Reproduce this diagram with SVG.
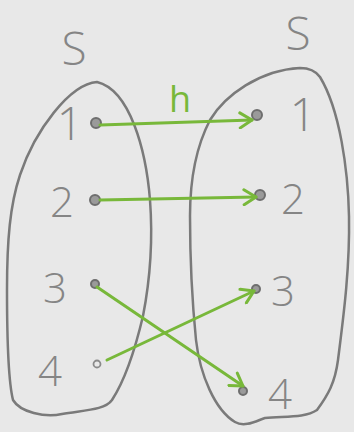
<svg xmlns="http://www.w3.org/2000/svg" width="354" height="432" viewBox="0 0 354 432">
<style>
.oval{fill:none;stroke:#7a7a7a;stroke-width:2.5;stroke-linecap:round}
.lbl{font-family:"Open Sans","DejaVu Sans",sans-serif;font-weight:300;fill:#858585;text-anchor:middle}
.dot{fill:#9a9a9a;stroke:#6e6e6e;stroke-width:2}
.arr{stroke:#78b83a;stroke-width:3;fill:none;stroke-linecap:round;marker-end:url(#chev)}
</style>
<defs>
<marker id="chev" viewBox="0 0 12 12" refX="10" refY="6" markerWidth="6" markerHeight="6" orient="auto" markerUnits="strokeWidth">
<path d="M2 1 L10 6 L2 11" fill="none" stroke="#78b83a" stroke-width="2" stroke-linecap="round" stroke-linejoin="round"/>
</marker>
</defs>
<rect width="354" height="432" fill="#e8e8e8"/>
<g id="setA">
<path class="oval" d="M97 82 C70 84 35 130 20 175 C10 205 7 240 7 290 C7 340 8 380 13 400 C20 412 45 418 62 414 C85 410 105 410 112 400 C125 380 135 350 143 316 C150 280 153 240 150 200 C146 150 130 90 97 82 Z"/>
<text class="lbl" x="74" y="65" font-size="46">S</text>
</g>
<g id="setB">
<path class="oval" d="M300 68 C260 70 225 95 210 120 C197 145 190 175 190 216 C190 260 192 300 196 340 C200 375 215 410 235 422 C245 428 258 420 265 418 C285 416 305 418 317 410 C328 395 335 383 338 360 C343 320 350 270 349 216 C348 170 340 110 320 77 C315 70 308 68 300 68 Z"/>
<text class="lbl" x="298" y="50" font-size="46">S</text>
</g>
<g id="a1"><circle class="dot" cx="96" cy="123" r="5"/><text class="lbl" x="70" y="140" font-size="46">1</text></g>
<g id="a2"><circle class="dot" cx="95" cy="200" r="5"/><text class="lbl" x="62" y="217" font-size="42">2</text></g>
<g id="a3"><circle class="dot" cx="95" cy="284" r="4"/><text class="lbl" x="55" y="303" font-size="42">3</text></g>
<g id="a4"><circle cx="97" cy="364" r="3.5" fill="#e8e8e8" stroke="#8a8a8a" stroke-width="1.8"/><text class="lbl" x="50" y="386" font-size="42">4</text></g>
<g id="b1"><circle class="dot" cx="257" cy="115" r="5"/><text class="lbl" x="303" y="131" font-size="46">1</text></g>
<g id="b2"><circle class="dot" cx="260" cy="195" r="5"/><text class="lbl" x="293" y="214" font-size="42">2</text></g>
<g id="b3"><circle class="dot" cx="256" cy="289" r="4"/><text class="lbl" x="283" y="306" font-size="42">3</text></g>
<g id="b4"><circle class="dot" cx="243" cy="391" r="4"/><text class="lbl" x="280" y="409" font-size="42">4</text></g>
<g id="connectors">
<line class="arr" x1="100" y1="125" x2="252" y2="120"/>
<line class="arr" x1="100" y1="200" x2="256" y2="197"/>
<line class="arr" x1="97" y1="287" x2="243" y2="386"/>
<line class="arr" x1="107" y1="360" x2="254" y2="291"/>
<text x="180" y="112" font-family="'Open Sans','DejaVu Sans',sans-serif" font-size="36" fill="#78b83a" text-anchor="middle">h</text>
</g>
</svg>
